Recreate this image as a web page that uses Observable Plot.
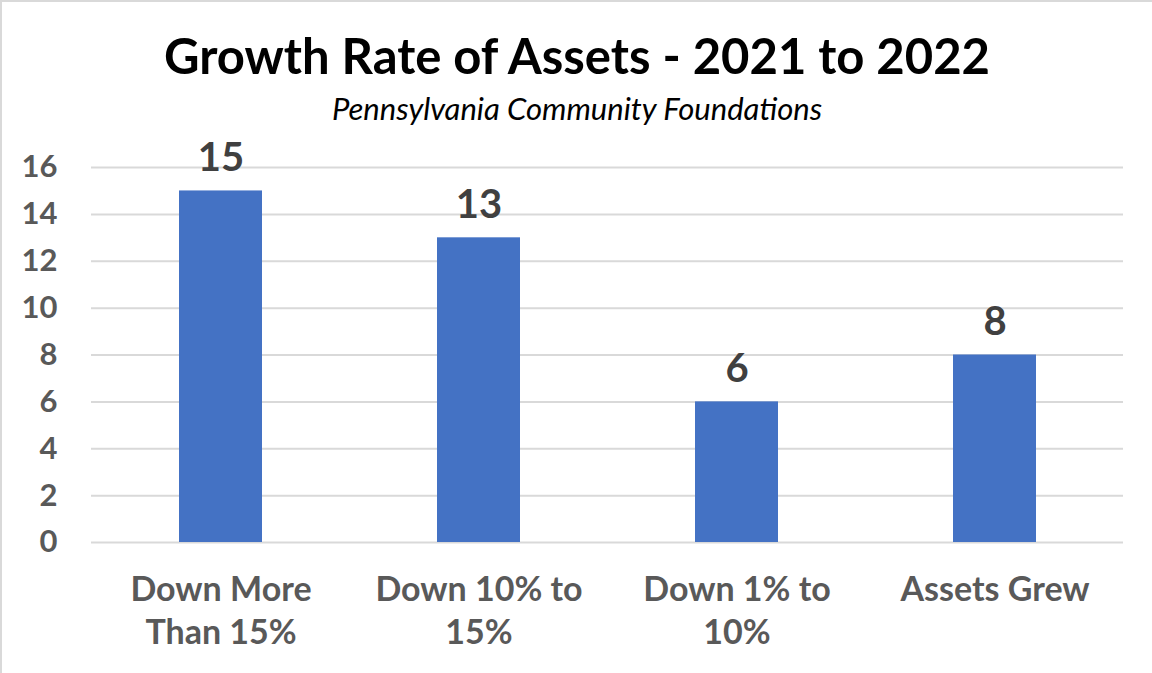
<!DOCTYPE html>
<html>
<head>
<meta charset="utf-8">
<script src="https://cdn.jsdelivr.net/npm/d3@7"></script>
<script src="https://cdn.jsdelivr.net/npm/@observablehq/plot@0.6"></script>
<style>
  html, body { margin: 0; padding: 0; background: #fff; }
  #wrap { width: 1150px; height: 671px; border-top: 2px solid #d9d9d9; border-left: 2px solid #d9d9d9; overflow: hidden; font-family: Lato, "Open Sans", sans-serif; }
  #title { height: 84px; text-align: center; font-weight: 700; font-size: 49px; line-height: 78px; color: #000; padding-top: 14px; box-sizing: border-box; }
  #subtitle { height: 44px; text-align: center; font-style: italic; font-size: 31px; line-height: 44px; color: #000; }
  svg { display: block; }
</style>
</head>
<body>
<div id="wrap">
  <div id="title">Growth Rate of Assets - 2021 to 2022</div>
  <div id="subtitle">Pennsylvania Community Foundations</div>
  <div id="chart"></div>
</div>
<script>
const categories = ["Down More\nThan 15%", "Down 10% to\n15%", "Down 1% to\n10%", "Assets Grew"];
const counts = [15, 13, 6, 8];
const yTicks = [0, 2, 4, 6, 8, 10, 12, 14, 16];

const data = categories.map((c, i) => ({category: c, count: counts[i]}));

const chart = Plot.plot({
  width: 1150,
  height: 543,
  marginTop: 37,
  marginBottom: 131,
  marginLeft: 89,
  marginRight: 29,
  style: {fontFamily: "Lato, 'Open Sans', sans-serif", background: "#fff"},
  x: {domain: categories, paddingInner: 0.68, paddingOuter: 0.34, label: null},
  y: {domain: [0, 16], ticks: yTicks, label: null},
  marks: [
    Plot.gridY(yTicks, {stroke: "#d9d9d9", strokeOpacity: 1, strokeWidth: 2}),
    Plot.barY(data, {x: "category", y: "count", fill: "#4472C4"}),
    Plot.text(data, {x: "category", y: "count", text: d => String(d.count), lineAnchor: "bottom", dy: -20, fontSize: 40, fontWeight: 700, fill: "#404040"}),
    Plot.axisY(yTicks, {tickSize: 0, tickPadding: 34, fontSize: 31, fontWeight: 700, color: "#595959", label: null}),
    Plot.axisX({tickSize: 0, tickPadding: 28, fontSize: 34, fontWeight: 700, color: "#595959", lineHeight: 1.27, label: null})
  ]
});
document.getElementById("chart").appendChild(chart);
</script>
</body>
</html>
